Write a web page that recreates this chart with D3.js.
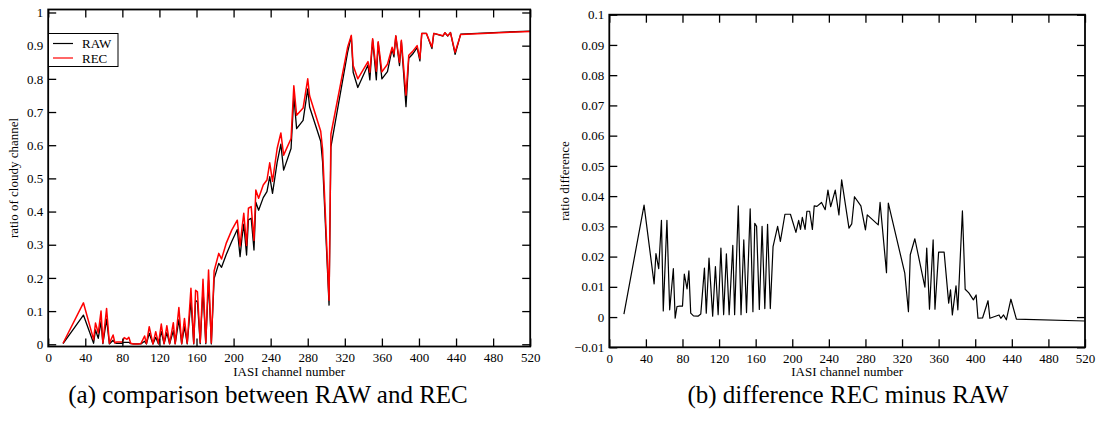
<!DOCTYPE html>
<html>
<head>
<meta charset="utf-8">
<script src="https://cdn.jsdelivr.net/npm/d3@7"></script>
<style>
  html, body { margin: 0; padding: 0; background: #fff; }
  svg { display: block; }
  text { font-family: "Liberation Serif", "Times New Roman", serif; fill: #000; }
</style>
</head>
<body>
<svg id="chart" width="1098" height="423"></svg>
<script>
// IASI channel numbers (shared x values)
const channels = [16,38,49,51,54,57,59,63,66,70,72,74,77,80,82,85,87,89,92,97,100,104,106,109,113,116,119,122,125,128,131,135,137,141,144,147,150,154,157,159,161,164,167,170,173,176,179,184,187,192,198,204,207,209,211,214,216,219,222,224,227,232,236,239,242,247,251,254,262,265,268,275,280,282,294,296,303,305,323,327,329,334,345,347,350,354,356,360,366,371,373,375,379,381,386,389,393,398,401,403,408,414,416,426,428,431,434,439,445,520];

const rawValues = [0.002,0.088,0.003,0.043,0.018,0.068,0.002,0.076,0.001,0.012,0.004,0.003,0.003,0.003,0.006,0.006,0.006,0.002,0.001,0.001,0.001,0.009,0.001,0.033,0.001,0.021,0.001,0.038,0.001,0.035,0.001,0.041,0.001,0.074,0.001,0.053,0.001,0.133,0.001,0.132,0.128,0.002,0.166,0.002,0.193,0.001,0.198,0.244,0.232,0.270,0.310,0.346,0.264,0.320,0.362,0.269,0.375,0.380,0.284,0.428,0.404,0.442,0.460,0.505,0.455,0.548,0.603,0.525,0.590,0.748,0.650,0.675,0.770,0.715,0.612,0.550,0.118,0.595,0.880,0.929,0.820,0.774,0.842,0.797,0.918,0.797,0.909,0.800,0.822,0.890,0.866,0.929,0.840,0.913,0.716,0.862,0.874,0.894,0.854,0.937,0.937,0.891,0.937,0.929,0.939,0.929,0.940,0.874,0.935,0.944];

const recValues = [0.003,0.125,0.014,0.064,0.034,0.100,0.004,0.108,0.003,0.028,0.004,0.007,0.007,0.007,0.020,0.015,0.021,0.003,0.001,0.001,0.002,0.025,0.002,0.053,0.001,0.038,0.002,0.061,0.002,0.056,0.002,0.065,0.002,0.111,0.002,0.078,0.003,0.169,0.003,0.163,0.158,0.005,0.196,0.005,0.224,0.004,0.221,0.274,0.257,0.304,0.344,0.374,0.296,0.349,0.395,0.298,0.410,0.415,0.313,0.465,0.440,0.480,0.495,0.547,0.491,0.590,0.637,0.570,0.620,0.779,0.690,0.712,0.800,0.749,0.642,0.588,0.133,0.633,0.895,0.931,0.840,0.800,0.852,0.820,0.921,0.823,0.912,0.821,0.844,0.895,0.875,0.930,0.850,0.916,0.751,0.871,0.882,0.900,0.861,0.937,0.937,0.896,0.937,0.930,0.939,0.930,0.939,0.880,0.934,0.943];

const diffValues = [0.001,0.037,0.011,0.021,0.016,0.032,0.002,0.032,0.0024,0.016,-0.0004,0.0035,0.0036,0.0036,0.0142,0.0093,0.0153,0.0013,0.0004,0.0003,0.001,0.0162,0.0013,0.0195,0.0003,0.0167,0.0008,0.0228,0.0008,0.0209,0.0008,0.0237,0.0008,0.0368,0.0008,0.0255,0.0015,0.0358,0.0018,0.031,0.030,0.0025,0.030,0.0028,0.0307,0.0028,0.0233,0.030,0.025,0.034,0.034,0.028,0.032,0.029,0.033,0.029,0.035,0.035,0.029,0.0368,0.0366,0.0379,0.0355,0.042,0.0365,0.042,0.0338,0.0454,0.0294,0.0308,0.0398,0.0368,0.0288,0.0338,0.0305,0.0379,0.0147,0.0377,0.0145,0.0018,0.0206,0.0259,0.0099,0.0228,0.0026,0.0255,0.0026,0.0215,0.0215,0.0046,0.009,0.0007,0.0103,0.0024,0.0351,0.0092,0.008,0.0057,0.0073,-0.0004,-0.0003,0.0054,-0.0004,0.0007,-0.0004,0.0007,-0.0009,0.0059,-0.0007,-0.0013];

const xTicks = [0,40,80,120,160,200,240,280,320,360,400,440,480,520];
const yTicksA = [0,0.1,0.2,0.3,0.4,0.5,0.6,0.7,0.8,0.9,1];
const yTicksB = [-0.01,0,0.01,0.02,0.03,0.04,0.05,0.06,0.07,0.08,0.09,0.1];
const seriesNames = ["RAW", "REC"];
const seriesColors = ["#000000", "#ff0000"];
const captions = ["(a) comparison between RAW and REC", "(b) difference REC minus RAW"];

const svg = d3.select("#chart");

function drawFrame(g, x, y, yTicks, yFmt, xTitle, yTitle, yTitleX) {
  const [x0, x1] = x.range();
  const [y0, y1] = y.range(); // y0 bottom, y1 top
  const fs = "13px";
  const bottom = g.append("g").attr("transform", `translate(0,${y0})`)
    .call(d3.axisBottom(x).tickValues(xTicks).tickSize(-8).tickSizeOuter(0).tickPadding(6).tickFormat(d3.format("d")));
  const top = g.append("g").attr("transform", `translate(0,${y1})`)
    .call(d3.axisTop(x).tickValues(xTicks).tickSize(-8).tickSizeOuter(0).tickFormat(""));
  const left = g.append("g").attr("transform", `translate(${x0},0)`)
    .call(d3.axisLeft(y).tickValues(yTicks).tickSize(-8).tickSizeOuter(0).tickPadding(5).tickFormat(yFmt));
  const right = g.append("g").attr("transform", `translate(${x1},0)`)
    .call(d3.axisRight(y).tickValues(yTicks).tickSize(-8).tickSizeOuter(0).tickFormat(""));
  [bottom, top, left, right].forEach(a => {
    a.select(".domain").remove();
    a.selectAll("line").attr("stroke", "#000").attr("stroke-width", 1.3);
    a.selectAll("text").attr("font-size", fs).attr("fill", "#000");
  });
  g.append("rect")
    .attr("x", x0).attr("y", y1).attr("width", x1 - x0).attr("height", y0 - y1)
    .attr("fill", "none").attr("stroke", "#000").attr("stroke-width", 1.8);
  g.append("text")
    .attr("x", (x0 + x1) / 2).attr("y", y0 + 29)
    .attr("text-anchor", "middle").attr("font-size", fs)
    .text(xTitle);
  g.append("text")
    .attr("transform", `translate(${yTitleX},${(y0 + y1) / 2}) rotate(-90)`)
    .attr("text-anchor", "middle").attr("font-size", fs)
    .text(yTitle);
}

// ---------- Panel (a) ----------
const xA = d3.scaleLinear().domain([0, 520]).range([48.2, 530.2]);
const yA = d3.scaleLinear().domain([-0.0067, 1.009]).range([346.5, 9.5]);
const gA = svg.append("g");

const lineA = (vals) => d3.line().x((d, i) => xA(channels[i])).y((d) => yA(d))(vals);
gA.append("path").attr("d", lineA(rawValues)).attr("fill", "none")
  .attr("stroke", seriesColors[0]).attr("stroke-width", 1.3).attr("stroke-linejoin", "round");
gA.append("path").attr("d", lineA(recValues)).attr("fill", "none")
  .attr("stroke", seriesColors[1]).attr("stroke-width", 1.5).attr("stroke-linejoin", "round");

drawFrame(gA, xA, yA, yTicksA, d => d === 0 ? "0" : d3.format("~g")(d), "IASI channel number", "ratio of cloudy channel", 18);

// legend
const leg = gA.append("g");
leg.append("rect").attr("x", 48.5).attr("y", 33.5).attr("width", 69.5).attr("height", 33)
  .attr("fill", "#fff").attr("stroke", "#000").attr("stroke-width", 1);
seriesNames.forEach((name, i) => {
  const yy = 43.5 + i * 14.5;
  leg.append("line").attr("x1", 53).attr("x2", 73).attr("y1", yy).attr("y2", yy)
    .attr("stroke", seriesColors[i]).attr("stroke-width", 1.2);
  leg.append("text").attr("x", 82).attr("y", yy + 4.5).attr("font-size", "13px").text(name);
});

// ---------- Panel (b) ----------
const xB = d3.scaleLinear().domain([0, 520]).range([609.3, 1085]);
const yB = d3.scaleLinear().domain([-0.01, 0.1]).range([347.3, 14.7]);
const gB = svg.append("g");
gB.append("path")
  .attr("d", d3.line().x((d, i) => xB(channels[i])).y(d => yB(d))(diffValues))
  .attr("fill", "none").attr("stroke", "#000").attr("stroke-width", 1.2).attr("stroke-linejoin", "round");

drawFrame(gB, xB, yB, yTicksB, d => Math.abs(d) < 1e-9 ? "0" : d3.format("~g")(+d.toFixed(3)), "IASI channel number", "ratio difference", 569);

// captions
svg.append("text").attr("x", 268).attr("y", 403).attr("text-anchor", "middle")
  .attr("font-size", "25px").text(captions[0]);
svg.append("text").attr("x", 848).attr("y", 403).attr("text-anchor", "middle")
  .attr("font-size", "25px").text(captions[1]);
</script>
</body>
</html>
